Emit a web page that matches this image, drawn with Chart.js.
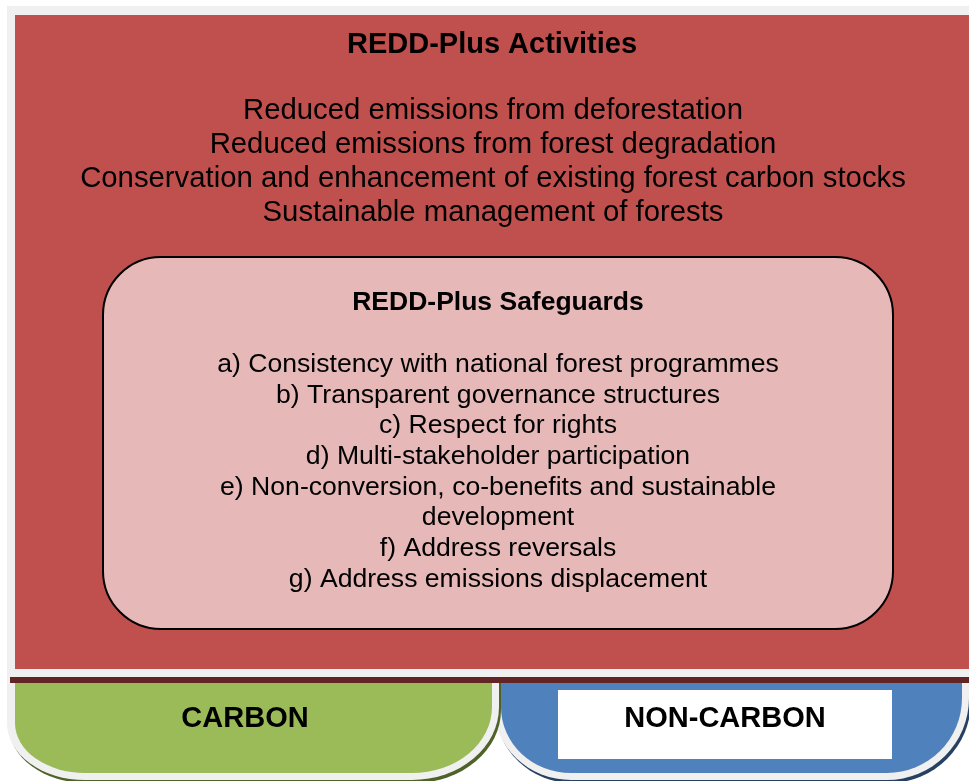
<!DOCTYPE html>
<html>
<head>
<meta charset="utf-8">
<script src="https://cdn.jsdelivr.net/npm/chart.js@4/dist/chart.umd.min.js"></script>
<style>
html,body{margin:0;padding:0;background:#ffffff;}
#wrap{width:969px;height:781px;}
</style>
</head>
<body>
<div id="wrap"><canvas id="c" width="969" height="781"></canvas></div>
<script>
// ---- diagram content ----
const activitiesTitle = "REDD-Plus Activities";
const activities = [
  "Reduced emissions from deforestation",
  "Reduced emissions from forest degradation",
  "Conservation and enhancement of existing forest carbon stocks",
  "Sustainable management of forests"
];
const safeguardsTitle = "REDD-Plus Safeguards";
const safeguards = [
  "a) Consistency with national forest programmes",
  "b) Transparent governance structures",
  "c) Respect for rights",
  "d) Multi-stakeholder participation",
  "e) Non-conversion, co-benefits and sustainable",
  "development",
  "f) Address reversals",
  "g) Address emissions displacement"
];
const bottomLabels = ["CARBON", "NON-CARBON"];

const FONT = '"Liberation Sans", Arial, sans-serif';

const diagramPlugin = {
  id: 'diagram',
  afterDraw(chart) {
    const ctx = chart.ctx;
    const X = v => chart.scales.x.getPixelForValue(v);
    const Y = v => chart.scales.y.getPixelForValue(v);

    function rbPath(x0, y0, x1, y1, blx, bly, brx, bry) {
      ctx.beginPath();
      ctx.moveTo(X(x0), Y(y0));
      ctx.lineTo(X(x1), Y(y0));
      ctx.lineTo(X(x1), Y(y1 - bry));
      ctx.ellipse(X(x1 - brx), Y(y1 - bry), brx, bry, 0, 0, Math.PI / 2);
      ctx.lineTo(X(x0 + blx), Y(y1));
      ctx.ellipse(X(x0 + blx), Y(y1 - bly), blx, bly, 0, Math.PI / 2, Math.PI);
      ctx.closePath();
    }
    function roundRect(x0, y0, x1, y1, r) {
      ctx.beginPath();
      ctx.moveTo(X(x0 + r), Y(y0));
      ctx.arcTo(X(x1), Y(y0), X(x1), Y(y1), r);
      ctx.arcTo(X(x1), Y(y1), X(x0), Y(y1), r);
      ctx.arcTo(X(x0), Y(y1), X(x0), Y(y0), r);
      ctx.arcTo(X(x0), Y(y0), X(x1), Y(y0), r);
      ctx.closePath();
    }
    function text(str, cx, cy, size, bold) {
      ctx.fillStyle = '#000000';
      ctx.font = (bold ? 'bold ' : '') + size + 'px ' + FONT;
      ctx.textAlign = 'center';
      ctx.textBaseline = 'middle';
      ctx.fillText(str, X(cx), Y(cy));
    }

    ctx.save();
    // background frame
    ctx.fillStyle = '#ffffff';
    ctx.fillRect(0, 0, 969, 781);
    ctx.fillStyle = '#f0f0f0';
    ctx.fillRect(X(7), Y(6), X(969) - X(7), Y(683) - Y(6));

    // red activities panel
    ctx.fillStyle = '#c0504d';
    ctx.fillRect(X(15), Y(15), X(969) - X(15), Y(669) - Y(15));

    // blue NON-CARBON box
    ctx.fillStyle = '#254061';
    rbPath(496, 683, 971, 783, 77, 73, 82, 82); ctx.fill();
    ctx.fillStyle = '#f0f0f0';
    rbPath(494, 683, 969, 780, 77, 73, 82, 82); ctx.fill();
    ctx.fillStyle = '#4f81bd';
    rbPath(501, 683, 962, 773, 70, 66, 75, 75); ctx.fill();
    ctx.fillStyle = '#ffffff';
    ctx.fillRect(X(558), Y(690), X(892) - X(558), Y(759) - Y(690));

    // green CARBON box
    ctx.fillStyle = '#4f6228';
    rbPath(9, 683, 501, 783, 78, 57, 87, 73); ctx.fill();
    ctx.fillStyle = '#f0f0f0';
    rbPath(7, 683, 499, 780, 78, 57, 87, 73); ctx.fill();
    ctx.fillStyle = '#9bbb59';
    rbPath(15, 683, 492, 773, 70, 50, 80, 66); ctx.fill();

    // maroon divider
    ctx.fillStyle = '#632523';
    ctx.fillRect(X(10), Y(677), X(969) - X(10), Y(683) - Y(677));

    // safeguards box
    roundRect(103, 257, 893, 629, 58);
    ctx.fillStyle = '#e6b9b8';
    ctx.fill();
    ctx.lineWidth = 2;
    ctx.strokeStyle = '#000000';
    ctx.stroke();

    // texts
    text(activitiesTitle, 492, 45, 29, true);
    activities.forEach((s, i) => text(s, 493, 111 + i * 34, 29.3, false));
    text(safeguardsTitle, 498, 302.5, 26.5, true);
    safeguards.forEach((s, i) => text(s, 498, 364.5 + i * 30.7, 26.6, false));
    text(bottomLabels[0], 245, 719, 29, true);
    text(bottomLabels[1], 725, 719, 29, true);
    ctx.restore();
  }
};

new Chart(document.getElementById('c'), {
  type: 'scatter',
  data: { datasets: [{ data: [], pointRadius: 0 }] },
  options: {
    responsive: false,
    devicePixelRatio: 1,
    animation: false,
    layout: { padding: 0 },
    plugins: { legend: { display: false }, tooltip: { enabled: false }, title: { display: false } },
    scales: {
      x: { type: 'linear', min: 0, max: 969, display: false },
      y: { type: 'linear', min: 0, max: 781, reverse: true, display: false }
    }
  },
  plugins: [diagramPlugin]
});
</script>
</body>
</html>
